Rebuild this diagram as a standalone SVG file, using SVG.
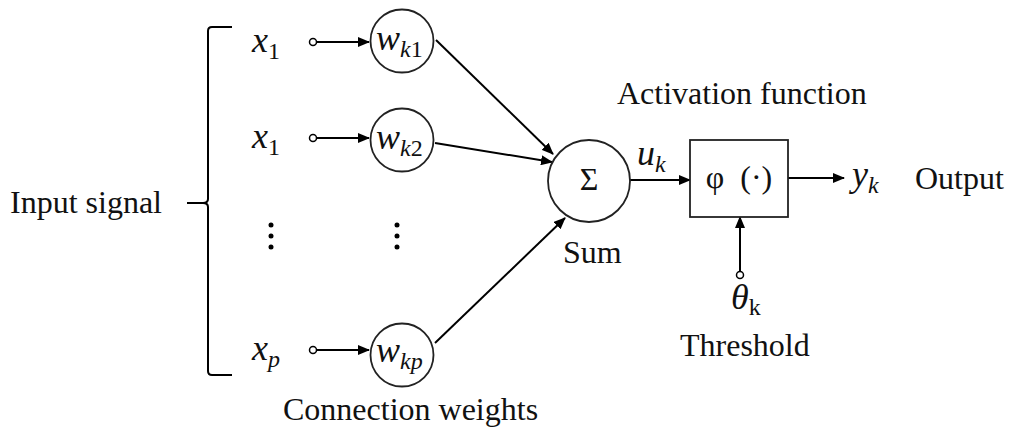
<svg xmlns="http://www.w3.org/2000/svg" width="1017" height="441" viewBox="0 0 1017 441">
<defs>
<marker id="ah" markerWidth="12" markerHeight="10" refX="11" refY="5" orient="auto" markerUnits="userSpaceOnUse">
<path d="M0,0 L12,5 L0,10 z" fill="#000"/>
</marker>
<style>
.t{font-family:"Liberation Serif","Times New Roman",serif;font-size:32px;fill:#111}
.m{font-family:"Liberation Serif","Times New Roman",serif;font-style:italic;font-size:36px;fill:#111}
.s{font-size:24px}
.ln{stroke:#000;stroke-width:2;fill:none}
.nd{stroke:#222;stroke-width:1.8;fill:#fff}
.oc{stroke:#000;stroke-width:1.5;fill:#fff}
</style>
</defs>
<rect width="1017" height="441" fill="#fff"/>
<g id="bracket">
<path class="ln" d="M232,27 L212,27 Q208,27 208,31 L208,199 Q208,203 203,203 L187,203 M203,203 Q208,203 208,207 L208,371 Q208,375 212,375 L232,375"/>
<text class="t" x="10" y="213">Input signal</text>
</g>
<g id="inputs">
<text class="m" x="252" y="52">x<tspan class="s" dy="7" font-style="normal">1</tspan></text>
<text class="m" x="252" y="148">x<tspan class="s" dy="7" font-style="normal">1</tspan></text>
<text class="m" x="252" y="360">x<tspan class="s" dy="7">p</tspan></text>
<circle cx="271" cy="225" r="2.5" fill="#000"/>
<circle cx="271" cy="236" r="2.5" fill="#000"/>
<circle cx="271" cy="247" r="2.5" fill="#000"/>
<circle cx="397" cy="225" r="2.5" fill="#000"/>
<circle cx="397" cy="236" r="2.5" fill="#000"/>
<circle cx="397" cy="247" r="2.5" fill="#000"/>
</g>
<g id="connectors">
<line class="ln" x1="316" y1="42" x2="369" y2="42" marker-end="url(#ah)"/>
<line class="ln" x1="316" y1="138" x2="369" y2="138" marker-end="url(#ah)"/>
<line class="ln" x1="316" y1="350" x2="369" y2="350" marker-end="url(#ah)"/>
<line class="ln" x1="436" y1="40" x2="553" y2="154" marker-end="url(#ah)"/>
<line class="ln" x1="435" y1="143" x2="552" y2="162" marker-end="url(#ah)"/>
<line class="ln" x1="435" y1="343" x2="565" y2="218" marker-end="url(#ah)"/>
<line class="ln" x1="630" y1="180" x2="690" y2="180" marker-end="url(#ah)"/>
<line class="ln" x1="788" y1="178" x2="844" y2="178" marker-end="url(#ah)"/>
<line class="ln" x1="740" y1="272" x2="740" y2="217" marker-end="url(#ah)"/>
<circle class="oc" cx="313" cy="42" r="3.5"/>
<circle class="oc" cx="313" cy="138" r="3.5"/>
<circle class="oc" cx="313" cy="350" r="3.5"/>
<circle class="oc" cx="740" cy="275" r="3.5"/>
</g>
<g id="w1">
<circle class="nd" cx="402" cy="41" r="31.5"/>
<text class="m" x="376" y="50">w<tspan class="s" dy="7">k</tspan><tspan class="s" font-style="normal">1</tspan></text>
</g>
<g id="w2">
<circle class="nd" cx="402" cy="140" r="31.5"/>
<text class="m" x="376" y="149">w<tspan class="s" dy="7">k</tspan><tspan class="s" font-style="normal">2</tspan></text>
</g>
<g id="wp">
<circle class="nd" cx="402" cy="355" r="31.5"/>
<text class="m" x="376" y="362">w<tspan class="s" dy="7">kp</tspan></text>
<text class="t" x="283" y="420">Connection weights</text>
</g>
<g id="sum">
<circle class="nd" cx="589" cy="181" r="41"/>
<text class="t" x="589" y="190" text-anchor="middle" font-size="27">Σ</text>
<text class="t" x="563" y="263">Sum</text>
<text class="m" x="637" y="165">u<tspan class="s" dy="7">k</tspan></text>
</g>
<g id="activation">
<rect class="nd" x="690" y="140" width="98" height="77"/>
<text class="t" x="739" y="188" text-anchor="middle" font-size="28" xml:space="preserve">φ  (·)</text>
<text class="t" x="617" y="104">Activation function</text>
</g>
<g id="threshold">
<text class="m" x="731" y="309">θ<tspan class="s" dy="6" font-style="normal">k</tspan></text>
<text class="t" x="680" y="356">Threshold</text>
</g>
<g id="output">
<text class="m" x="852" y="186">y<tspan class="s" dy="7">k</tspan></text>
<text class="t" x="915" y="189">Output</text>
</g>
</svg>
